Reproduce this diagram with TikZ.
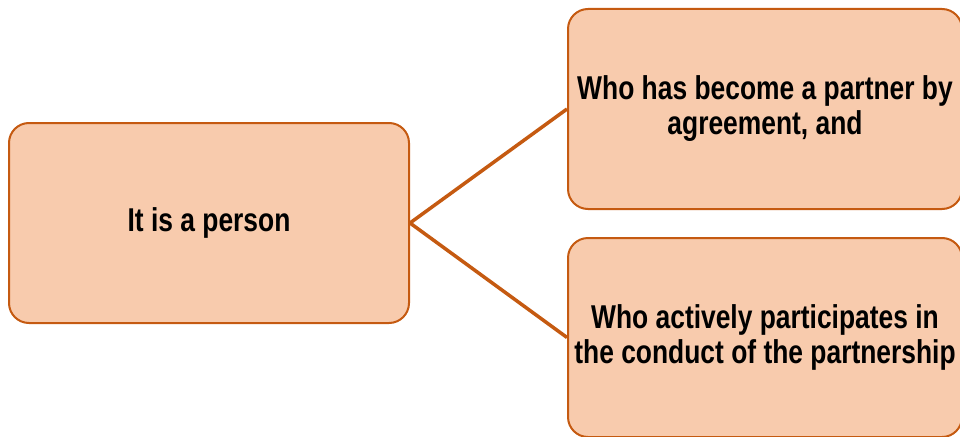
\documentclass[tikz,border=0pt]{standalone}
\usepackage{fontspec}
\setmainfont{Liberation Sans}[FakeStretch=0.8]
\usepackage{tikz}

\begin{document}
\begin{tikzpicture}
		[x=1pt, y=1pt,
		main node/.style={rectangle, rounded corners=20pt, draw=boxline, line width=2pt, fill=boxfill, align=center, font=\fontsize{33}{35}\selectfont\bfseries},
		link/.style={draw=boxline, line width=3.5pt}]
		\definecolor{boxfill}{HTML}{F8CBAD}
		\definecolor{boxline}{HTML}{C55A11}
		\useasboundingbox (0,0) rectangle (960,-436);
			\node[main node, minimum width=400pt, minimum height=200pt] (person) at (209,-223) {It is a person};
			\node[main node, minimum width=394pt, minimum height=200pt] (agreement) at (765,-109) {Who has become a partner by\\agreement, and};
			\node[main node, minimum width=394pt, minimum height=199pt] (conduct) at (765,-337.5) {Who actively participates in\\the conduct of the partnership};

			\path[link] (person.east) edge (agreement.west);
			\path[link] (person.east) edge (conduct.west);
		\end{tikzpicture}
\end{document}
